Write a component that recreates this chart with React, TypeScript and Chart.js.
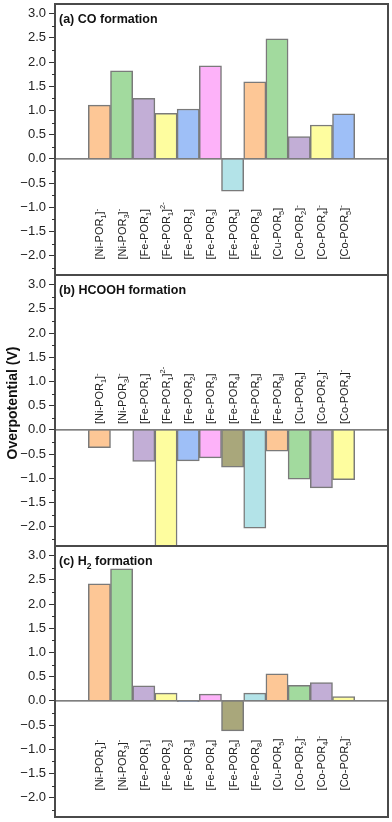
import React, { useEffect, useRef } from 'react';
import { Chart, registerables } from 'chart.js';
Chart.register(...registerables);

// ---- data ----
const labelsA = ['[Ni-POR_1]^-', '[Ni-POR_3]^-', '[Fe-POR_1]', '[Fe-POR_1]^2-', '[Fe-POR_2]', '[Fe-POR_3]', '[Fe-POR_5]', '[Fe-POR_8]', '[Cu-POR_5]', '[Co-POR_2]^-', '[Co-POR_4]^-', '[Co-POR_5]^-'];
const valuesA: (number | null)[] = [1.11, 1.82, 1.25, 0.94, 1.03, 1.92, -0.67, 1.59, 2.48, 0.46, 0.70, 0.93];

const labelsB = ['[Ni-POR_1]^-', '[Ni-POR_3]^-', '[Fe-POR_1]', '[Fe-POR_1]^2-', '[Fe-POR_2]', '[Fe-POR_3]', '[Fe-POR_4]', '[Fe-POR_5]', '[Fe-POR_8]', '[Cu-POR_5]', '[Co-POR_2]^-', '[Co-POR_4]^-'];
const valuesB: (number | null)[] = [-0.37, null, -0.65, -2.6, -0.64, -0.58, -0.77, -2.03, -0.44, -1.02, -1.2, -1.03];

const labelsC = ['[Ni-POR_1]^-', '[Ni-POR_3]^-', '[Fe-POR_1]', '[Fe-POR_2]', '[Fe-POR_3]', '[Fe-POR_4]', '[Fe-POR_5]', '[Fe-POR_8]', '[Cu-POR_5]', '[Co-POR_2]^-', '[Co-POR_4]^-', '[Co-POR_5]^-'];
const valuesC: (number | null)[] = [2.42, 2.73, 0.31, 0.16, -0.01, 0.14, -0.62, 0.16, 0.56, 0.32, 0.38, 0.09];

const titleA = '(a) CO formation';
const titleB = '(b) HCOOH formation';
const titleC = '(c) H_2 formation';
const yTitle = 'Overpotential (V)';

const PEACH = '#FDC796';
const GREEN = '#A2DA9E';
const PURPLE = '#C2AED6';
const YELLOW = '#FEFD9F';
const BLUE = '#9EBFF7';
const PINK = '#FDB2F9';
const CYAN = '#B3E3E8';
const OLIVE = '#A9A77B';

const colorsA = [PEACH, GREEN, PURPLE, YELLOW, BLUE, PINK, CYAN, PEACH, GREEN, PURPLE, YELLOW, BLUE];
const colorsB = [PEACH, GREEN, PURPLE, YELLOW, BLUE, PINK, OLIVE, CYAN, PEACH, GREEN, PURPLE, YELLOW];
const colorsC = [PEACH, GREEN, PURPLE, YELLOW, BLUE, PINK, OLIVE, CYAN, PEACH, GREEN, PURPLE, YELLOW];

const FONT = '"Liberation Sans", Arial, Helvetica, sans-serif';

type Seg = { t: string; k: 'n' | 'sub' | 'sup' };
function parseRich(s: string): Seg[] {
  const segs: Seg[] = [];
  let cur = '';
  for (let i = 0; i < s.length; i++) {
    const c = s[i];
    if (c === '_') {
      if (cur) segs.push({ t: cur, k: 'n' });
      cur = '';
      segs.push({ t: s[i + 1], k: 'sub' });
      i++;
    } else if (c === '^') {
      if (cur) segs.push({ t: cur, k: 'n' });
      cur = '';
      segs.push({ t: s.slice(i + 1), k: 'sup' });
      i = s.length;
    } else cur += c;
  }
  if (cur) segs.push({ t: cur, k: 'n' });
  return segs;
}

function drawRich(ctx: CanvasRenderingContext2D, s: string, x: number, y: number, size: number, weight: string, color: string) {
  ctx.fillStyle = color;
  ctx.textBaseline = 'alphabetic';
  ctx.textAlign = 'left';
  let cx = x;
  for (const seg of parseRich(s)) {
    const fs = seg.k === 'n' ? size : size * 0.68;
    ctx.font = `${weight} ${fs}px ${FONT}`;
    const dy = seg.k === 'sub' ? size * 0.28 : seg.k === 'sup' ? -size * 0.42 : 0;
    ctx.fillText(seg.t, cx, y + dy);
    cx += ctx.measureText(seg.t).width;
  }
}

type PanelProps = {
  top: number;
  labels: string[];
  values: (number | null)[];
  colors: string[];
  title: string;
  labelStart: number;
  showYTitle?: boolean;
};

function Panel({ top, labels, values, colors, title, labelStart, showYTitle }: PanelProps) {
  const ref = useRef<HTMLCanvasElement | null>(null);
  useEffect(() => {
    if (!ref.current) return;
    const decor = {
      id: 'decor',
      afterDatasetsDraw(chart: any) {
        const { ctx, chartArea: a, scales } = chart;
        const y = scales.y;
        const x = scales.x;
        ctx.save();
        // zero line
        const y0 = y.getPixelForValue(0);
        ctx.strokeStyle = '#555';
        ctx.lineWidth = 1.3;
        ctx.beginPath();
        ctx.moveTo(a.left, y0);
        ctx.lineTo(a.right, y0);
        ctx.stroke();
        // frame
        ctx.strokeStyle = '#4a4a4a';
        ctx.lineWidth = 2;
        ctx.strokeRect(a.left, a.top, a.right - a.left, a.bottom - a.top);
        // minor ticks
        ctx.strokeStyle = '#333';
        ctx.lineWidth = 1;
        for (let v = -2.25; v < 3.2; v += 0.5) {
          const py = Math.round(y.getPixelForValue(v)) + 0.5;
          ctx.beginPath();
          ctx.moveTo(a.left - 3, py);
          ctx.lineTo(a.left, py);
          ctx.stroke();
        }
        // title
        drawRich(ctx, title, a.left + 4, a.top + 19, 12.5, 'bold', '#111');
        // category labels
        const ys = y.getPixelForValue(labelStart);
        labels.forEach((lab, i) => {
          const px = x.getPixelForValue(i);
          ctx.save();
          ctx.translate(px, ys);
          ctx.rotate(-Math.PI / 2);
          drawRich(ctx, lab, 0, 4, 11, 'normal', '#222');
          ctx.restore();
        });
        // y axis title
        if (showYTitle) {
          ctx.save();
          ctx.translate(13, 403 - top);
          ctx.rotate(-Math.PI / 2);
          ctx.font = `bold 14px ${FONT}`;
          ctx.fillStyle = '#111';
          ctx.textAlign = 'center';
          ctx.textBaseline = 'middle';
          ctx.fillText(yTitle, 0, 0);
          ctx.restore();
        }
        ctx.restore();
      },
    };

    const chart = new Chart(ref.current, {
      type: 'bar',
      data: {
        datasets: [
          {
            data: values.map((v, i) => ({ x: i, y: v })) as any,
            backgroundColor: colors,
            borderColor: '#7a7a7a',
            borderWidth: 1.5,
            categoryPercentage: 1,
            barPercentage: 1,
          },
        ],
      },
      options: {
        animation: false,
        responsive: false,
        devicePixelRatio: 1,
        layout: { padding: { top: 4, bottom: 4, right: 4, left: 0 } },
        plugins: { legend: { display: false }, tooltip: { enabled: false } },
        scales: {
          x: {
            type: 'linear',
            min: -2,
            max: 13,
            offset: false,
            display: false,
          },
          y: {
            type: 'linear',
            min: -2.4,
            max: 3.2,
            afterFit(scale: any) {
              scale.width = 55;
              scale.paddingTop = 0;
              scale.paddingBottom = 0;
            },
            border: { display: false },
            grid: { drawOnChartArea: false, drawTicks: true, tickLength: 6, color: '#333', lineWidth: 1 },
            ticks: {
              stepSize: 0.5,
              includeBounds: false,
              padding: 3,
              color: '#222',
              font: { family: FONT, size: 13 },
              callback: (v: any) => {
                const n = Number(v);
                const s = Math.abs(n).toFixed(1);
                return n < -1e-9 ? '\u2212' + s : s;
              },
            },
          },
        },
      } as any,
      plugins: [decor],
    });
    return () => chart.destroy();
  }, []);
  return (
    <canvas
      ref={ref}
      width={392}
      height={279}
      style={{ position: 'absolute', left: 0, top, width: 392, height: 279 }}
    />
  );
}

export default function App() {
  return (
    <div style={{ position: 'absolute', left: 0, top: 0, width: 392, height: 822, background: '#fff', overflow: 'hidden' }}>
      <Panel top={0} labels={labelsA} values={valuesA} colors={colorsA} title={titleA} labelStart={-2.08} />
      <Panel top={271} labels={labelsB} values={valuesB} colors={colorsB} title={titleB} labelStart={0.12} showYTitle />
      <Panel top={542} labels={labelsC} values={valuesC} colors={colorsC} title={titleC} labelStart={-1.85} />
    </div>
  );
}
